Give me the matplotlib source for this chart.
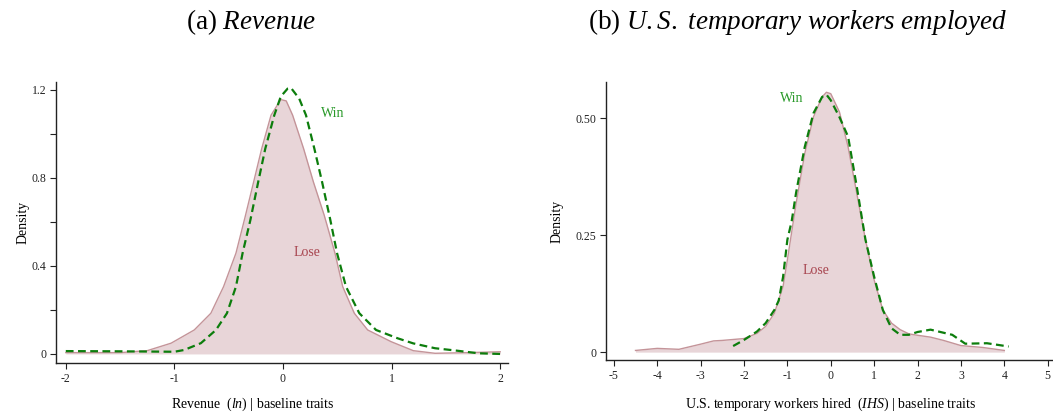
import matplotlib
matplotlib.use("Agg")
import matplotlib.pyplot as plt
from matplotlib.ticker import FixedLocator

plt.rcParams['font.family'] = ['Liberation Serif', 'DejaVu Serif']
plt.rcParams['mathtext.fontset'] = 'custom'
plt.rcParams['mathtext.rm'] = 'Liberation Serif'
plt.rcParams['mathtext.it'] = 'Liberation Serif:italic'
plt.rcParams['axes.unicode_minus'] = False

# ---- Panel (a): Revenue ----
rev_lose_x = [-2.0, -1.5, -1.25, -1.03, -0.817, -0.664, -0.547, -0.433, -0.35, -0.27, -0.196, -0.11, -0.02,
              0.03, 0.089, 0.19, 0.28, 0.38, 0.479, 0.55, 0.657, 0.78, 0.995, 1.2, 1.4, 1.7, 2.0]
rev_lose_y = [0.006, 0.006, 0.015, 0.049, 0.109, 0.185, 0.306, 0.458, 0.62, 0.782, 0.933, 1.085, 1.156,
              1.15, 1.085, 0.933, 0.782, 0.63, 0.458, 0.306, 0.185, 0.109, 0.056, 0.015, 0.003, 0.006, 0.01]
rev_win_x = [-2.0, -1.5, -1.0, -0.91, -0.756, -0.617, -0.516, -0.433, -0.372, -0.30, -0.228, -0.163, -0.08, -0.02,
             0.043, 0.074, 0.15, 0.212, 0.289, 0.36, 0.436, 0.498, 0.58, 0.703, 0.857, 1.057, 1.2, 1.4, 1.6, 1.8, 2.0]
rev_win_y = [0.013, 0.012, 0.01, 0.018, 0.049, 0.109, 0.185, 0.306, 0.458, 0.609, 0.782, 0.933, 1.085, 1.17,
             1.206, 1.209, 1.16, 1.085, 0.933, 0.782, 0.609, 0.458, 0.306, 0.185, 0.109, 0.071, 0.048, 0.026, 0.015, 0.003, 0.0]

# ---- Panel (b): U.S. temporary workers ----
tmp_lose_x = [-4.5, -4.0, -3.5, -3.0, -2.7, -2.5, -2.0, -1.7, -1.5, -1.3, -1.1, -1.0, -0.8, -0.6, -0.4, -0.2, -0.1,
              0.0, 0.2, 0.4, 0.6, 0.8, 1.0, 1.2, 1.4, 1.6, 1.8, 2.0, 2.3, 2.6, 3.0, 3.5, 4.0]
tmp_lose_y = [0.0036, 0.008, 0.006, 0.017, 0.024, 0.025, 0.029, 0.04, 0.055, 0.083, 0.14, 0.197, 0.317, 0.424, 0.502,
              0.545, 0.555, 0.552, 0.513, 0.438, 0.339, 0.24, 0.154, 0.09, 0.062, 0.048, 0.039, 0.036, 0.032, 0.025,
              0.014, 0.01, 0.0036]
tmp_win_x = [-2.25, -2.0, -1.7, -1.5, -1.3, -1.2, -1.1, -1.0, -0.9, -0.8, -0.6, -0.4, -0.2, -0.1, 0.0, 0.2, 0.4,
             0.6, 0.8, 1.0, 1.2, 1.4, 1.6, 1.8, 2.0, 2.3, 2.8, 3.1, 3.6, 4.1]
tmp_win_y = [0.013, 0.026, 0.044, 0.062, 0.09, 0.11, 0.16, 0.24, 0.28, 0.34, 0.438, 0.51, 0.545, 0.55, 0.538, 0.502,
             0.46, 0.353, 0.24, 0.161, 0.09, 0.051, 0.037, 0.037, 0.043, 0.048, 0.037, 0.018, 0.019, 0.012]

rev_yticks = [0, 0.4, 0.8, 1.2]
rev_yticklabels = ['0', '0.4', '0.8', '1.2']
rev_yminor = [0.2, 0.6, 1.0]
rev_xticks = [-2, -1, 0, 1, 2]
tmp_yticks = [0, 0.25, 0.5]
tmp_yticklabels = ['0', '0.25', '0.50']
tmp_xticks = [-5, -4, -3, -2, -1, 0, 1, 2, 3, 4, 5]

LOSE_FILL = '#e8d5d8'
LOSE_LINE = '#c49499'
LOSE_TXT = '#a8454f'
WIN_LINE = '#0c7d0c'
WIN_TXT = '#2a9a2a'

fig = plt.figure(figsize=(10.53, 4.12), dpi=100)
axa = fig.add_axes([0.0532, 0.119, 0.429, 0.682])
axb = fig.add_axes([0.5755, 0.126, 0.4236, 0.675])

def style(ax):
    for s in ['top', 'right']:
        ax.spines[s].set_visible(False)
    for s in ['left', 'bottom']:
        ax.spines[s].set_linewidth(1.0)
        ax.spines[s].set_color('#222222')
    ax.tick_params(axis='both', which='both', direction='out', length=4, width=0.8,
                   labelsize=8.5, colors='#222222', pad=3)

# Panel a
axa.fill_between(rev_lose_x, rev_lose_y, 0, color=LOSE_FILL, linewidth=0)
axa.plot(rev_lose_x, rev_lose_y, color=LOSE_LINE, lw=1.0)
axa.plot(rev_win_x, rev_win_y, color=WIN_LINE, lw=1.6, dashes=(3.5, 2))
axa.set_xlim(-2.09, 2.07)
axa.set_ylim(-0.041, 1.236)
axa.set_xticks(rev_xticks)
axa.set_xticklabels([str(v) for v in rev_xticks])
axa.set_yticks(rev_yticks)
axa.set_yticklabels(rev_yticklabels)
axa.yaxis.set_minor_locator(FixedLocator(rev_yminor))
axa.text(0.458, 1.092, 'Win', color=WIN_TXT, fontsize=10, ha='center', va='center')
axa.text(0.221, 0.46, 'Lose', color=LOSE_TXT, fontsize=10, ha='center', va='center')
axa.set_ylabel('Density', fontsize=10, va='center')
axa.yaxis.set_label_coords(-0.073, 0.5)
style(axa)
fig.text(253 / 1053, 0.0194, r'Revenue  ($\it{ln}$) | baseline traits', fontsize=10, ha='center', va='center')
fig.text(251 / 1053, 0.947, r'(a) $\it{Revenue}$', fontsize=19.5, ha='center', va='center')

# Panel b
axb.fill_between(tmp_lose_x, tmp_lose_y, 0, color=LOSE_FILL, linewidth=0)
axb.plot(tmp_lose_x, tmp_lose_y, color=LOSE_LINE, lw=1.0)
axb.plot(tmp_win_x, tmp_win_y, color=WIN_LINE, lw=1.6, dashes=(3.5, 2))
axb.set_xlim(-5.18, 5.1)
axb.set_ylim(-0.017, 0.577)
axb.set_xticks(tmp_xticks)
axb.set_xticklabels([str(v) for v in tmp_xticks])
axb.set_yticks(tmp_yticks)
axb.set_yticklabels(tmp_yticklabels)
axb.text(-0.9, 0.541, 'Win', color=WIN_TXT, fontsize=10, ha='center', va='center')
axb.text(-0.35, 0.175, 'Lose', color=LOSE_TXT, fontsize=10, ha='center', va='center')
axb.set_ylabel('Density', fontsize=10, va='center')
axb.yaxis.set_label_coords(-0.1087, 0.5)
style(axb)
fig.text(830 / 1053, 0.0194, r'U.S. temporary workers hired  ($\it{IHS}$) | baseline traits', fontsize=10,
         ha='center', va='center')
fig.text(797 / 1053, 0.947, r'(b) $\it{U.S.\ temporary\ workers\ employed}$', fontsize=19.5, ha='center', va='center')

fig.savefig('out.png', dpi=100)
